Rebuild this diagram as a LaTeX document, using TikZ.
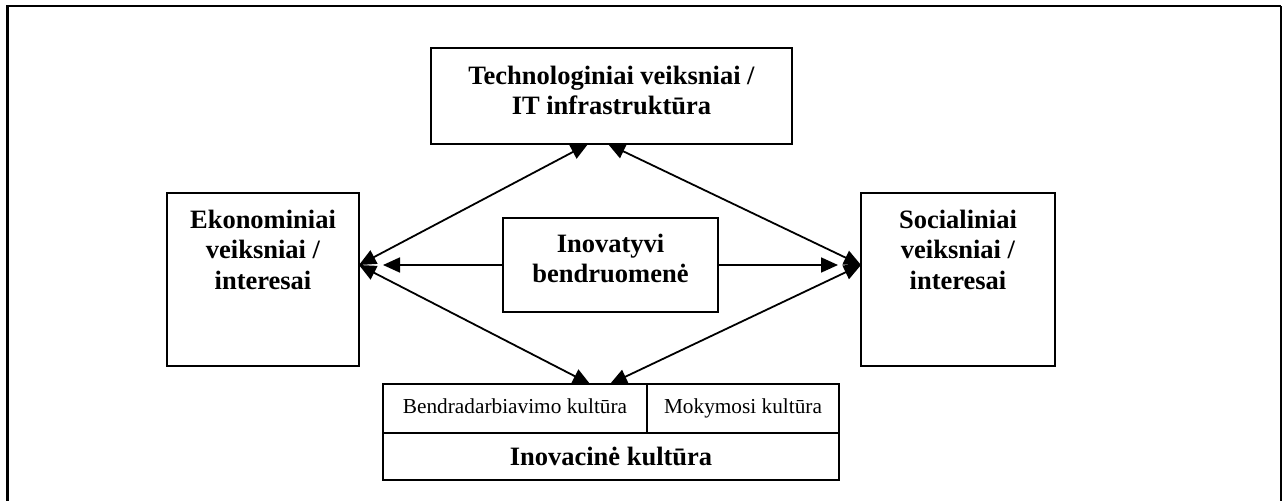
\documentclass[tikz,border=0pt]{standalone}
\usepackage{fontspec}
\setmainfont{Liberation Serif}
\usetikzlibrary{arrows.meta,calc}
\newcommand{\bxt}[4]{\begin{minipage}[c][#2][t]{#1}\centering\rule{0pt}{#3}#4\end{minipage}}
\begin{document}
\begin{tikzpicture}[x=1pt,y=-1pt,
  box/.style={draw, line width=1.8pt, inner sep=0pt, outer sep=0pt, anchor=north west},
  big/.style={font=\fontsize{26.5}{30.5}\selectfont\bfseries},
  small/.style={font=\fontsize{21.3}{24}\selectfont, text height=15pt, text depth=5pt},
  conn/.style={line width=1.8pt, {Triangle[length=17pt,width=15pt]}-{Triangle[length=17pt,width=15pt]}},
  one/.style={line width=1.8pt, -{Triangle[length=17pt,width=15pt]}}]
\useasboundingbox (0,0) rectangle (1286,501);
% outer frame (open at the bottom)
\draw[line width=2.8pt] (7.5,501) -- (7.5,6) -- (1281,6);
\draw[line width=1.5pt] (1281,6) -- (1281,501);
% boxes
\node[box, big] (tech) at (431,48) {\bxt{361pt}{96pt}{36pt}{Technologiniai veiksniai /\\IT infrastrukt\=ura}};
\node[box, big] (eko) at (167,193) {\bxt{192pt}{173pt}{35pt}{Ekonominiai\\veiksniai /\\interesai}};
\node[box, big] (soc) at (861,193) {\bxt{194pt}{173pt}{35pt}{Socialiniai\\veiksniai /\\interesai}};
\node[box, big] (inno) at (503,218) {\bxt{215pt}{94pt}{34pt}{Inovatyvi\\bendruomen\.e}};
\node[box, small, minimum width=264pt, minimum height=49pt] (bendr) at (383,384) {Bendradarbiavimo kult\=ura};
\node[box, small, minimum width=192pt, minimum height=49pt] (moky) at (647,384) {Mokymosi kult\=ura};
\node[box, big, minimum width=456pt, minimum height=47pt] (inov) at (383,433) {Inovacin\.e kult\=ura};
% connectors
\draw[conn] ($(tech.south)+(-23.5,0)$) -- ($(eko.north east)+(0,72)$);
\draw[conn] ($(tech.south)+(-3.5,0)$) -- ($(soc.north west)+(0,72)$);
\draw[conn] ($(bendr.north east)+(-57,0)$) -- ($(eko.north east)+(0,72)$);
\draw[conn] ($(bendr.north east)+(-37,0)$) -- ($(soc.north west)+(0,72)$);
\draw[one] (inno.west) -- ($(eko.north east)+(24,72)$);
\draw[one] (inno.east) -- ($(soc.north west)+(-23,72)$);
\end{tikzpicture}
\end{document}
